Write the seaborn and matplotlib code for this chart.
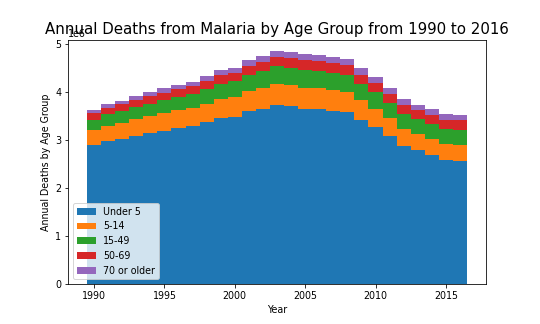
import matplotlib
matplotlib.use("Agg")
import matplotlib.pyplot as plt
from matplotlib.patches import Patch
import numpy as np
import pandas as pd
import seaborn as sns

# Annual malaria deaths by age group, in millions
years = list(range(1990, 2017))
groups = ["Under 5", "5-14", "15-49", "50-69", "70 or older"]

under_5 = [2.887, 2.971, 3.012, 3.074, 3.137, 3.178, 3.241, 3.282, 3.365, 3.448,
           3.469, 3.594, 3.635, 3.718, 3.698, 3.635, 3.635, 3.594, 3.573, 3.407,
           3.261, 3.074, 2.867, 2.784, 2.680, 2.576, 2.555]
age_5_14 = [0.312, 0.311, 0.333, 0.354, 0.353, 0.374, 0.373, 0.374, 0.374, 0.395,
            0.415, 0.415, 0.436, 0.437, 0.436, 0.436, 0.436, 0.436, 0.415, 0.415,
            0.374, 0.374, 0.353, 0.332, 0.332, 0.332, 0.332]
age_15_49 = [0.222, 0.249, 0.249, 0.249, 0.249, 0.270, 0.270, 0.291, 0.312, 0.312,
             0.333, 0.333, 0.354, 0.373, 0.353, 0.374, 0.354, 0.353, 0.354, 0.333,
             0.353, 0.312, 0.311, 0.312, 0.312, 0.312, 0.312]
age_50_69 = [0.131, 0.125, 0.145, 0.145, 0.166, 0.146, 0.167, 0.166, 0.166, 0.187,
             0.166, 0.186, 0.187, 0.187, 0.208, 0.208, 0.207, 0.208, 0.207, 0.187,
             0.187, 0.187, 0.187, 0.186, 0.187, 0.187, 0.208]
age_70_plus = [0.062, 0.083, 0.062, 0.083, 0.083, 0.103, 0.083, 0.083, 0.104, 0.103,
               0.118, 0.125, 0.124, 0.125, 0.124, 0.125, 0.125, 0.124, 0.125, 0.145,
               0.125, 0.124, 0.125, 0.104, 0.124, 0.124, 0.104]

series = [under_5, age_5_14, age_15_49, age_50_69, age_70_plus]
colors = sns.color_palette("tab10", len(groups))
palette = dict(zip(groups, colors))

df = pd.concat(
    [pd.DataFrame({"Year": years, "Group": g, "Deaths": np.array(v) * 1e6})
     for g, v in zip(groups, series)],
    ignore_index=True,
)

plt.rcParams["font.family"] = ["DejaVu Sans"]

fig = plt.figure(figsize=(7.5, 4.5), dpi=72)
ax = fig.add_axes([0.126, 0.123, 0.774, 0.754])

# histplot stacks the first hue level on top, so feed the groups oldest-first
sns.histplot(
    data=df, x="Year", weights="Deaths", hue="Group",
    hue_order=groups[::-1], palette=palette,
    multiple="stack", discrete=True, shrink=1,
    alpha=1, linewidth=0, legend=False, ax=ax,
)

ax.set_title("Annual Deaths from Malaria by Age Group from 1990 to 2016",
             fontsize=15, y=1.0, pad=6)
ax.set_xlabel("Year", fontsize=9.5)
ax.set_ylabel("Annual Deaths by Age Group", fontsize=9.5)
ax.tick_params(labelsize=9.5)
ax.yaxis.get_offset_text().set_fontsize(9.5)
ax.set_xticks([1990, 1995, 2000, 2005, 2010, 2015])

handles = [Patch(facecolor=palette[g], label=g) for g in groups]
ax.legend(handles=handles, loc="lower left", fontsize=9.5)

fig.savefig("out.png", dpi=72)
